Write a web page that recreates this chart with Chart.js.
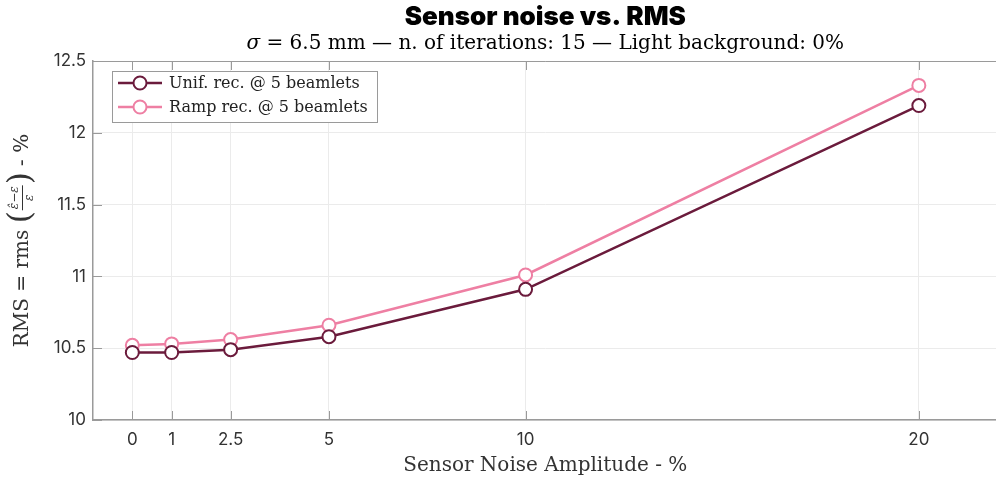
<!DOCTYPE html>
<html>
<head>
<meta charset="utf-8">
<script src="https://cdn.jsdelivr.net/npm/chart.js@4.4.1/dist/chart.umd.min.js"></script>
<style>
  html, body { margin: 0; padding: 0; background: #fff; overflow: hidden; }
  #wrap { width: 1006px; height: 482px; overflow: hidden; }
</style>
</head>
<body>
<div id="wrap"><canvas id="chart_rms" width="1006" height="482"></canvas></div>
<script>
// noise amplitudes (%) and RMS error for both reconstructions
const noiseAmp = [0, 1, 2.5, 5, 10, 20];
const unifRms = [10.47, 10.47, 10.49, 10.58, 10.91, 12.19];
const rampRms = [10.52, 10.53, 10.56, 10.66, 11.01, 12.33];
const xTicks = [0, 1, 2.5, 5, 10, 20];
const yTicks = [10, 10.5, 11, 11.5, 12, 12.5];

const TITLE = 'Sensor noise vs. RMS';
const SUBTITLE = ' = 6.5 mm \u2014 n. of iterations: 15 \u2014 Light background: 0%';
const X_LABEL = 'Sensor Noise Amplitude - %';

const SERIF = '"DejaVu Serif", "Liberation Serif", serif';
const SANS = 'Inter, "Liberation Sans", sans-serif';
const AXIS_COLOR = '#9a9a9a';
const GRID_COLOR = '#ebebeb';

const toPoints = ys => noiseAmp.map((x, i) => ({ x: x, y: ys[i] }));

// titles, y label with the fraction, inner tick marks and legend box
const decorations = {
    id: 'decorations',
    beforeDatasetsDraw(chart) {
        const { ctx, chartArea: a, scales } = chart;
        ctx.save();
        ctx.strokeStyle = AXIS_COLOR;
        ctx.lineWidth = 1;
        ctx.beginPath();
        ctx.moveTo(a.left, a.top + 0.5);
        ctx.lineTo(a.right, a.top + 0.5);
        xTicks.forEach(v => {
            const px = Math.round(scales.x.getPixelForValue(v)) + 0.5;
            ctx.moveTo(px, a.bottom); ctx.lineTo(px, a.bottom - 9);
            ctx.moveTo(px, a.top); ctx.lineTo(px, a.top + 9);
        });
        yTicks.forEach(v => {
            const py = Math.round(scales.y.getPixelForValue(v)) + 0.5;
            ctx.moveTo(a.left, py); ctx.lineTo(a.left + 9, py);
        });
        ctx.stroke();
        ctx.restore();
    },
    afterDraw(chart) {
        const { ctx, chartArea: a } = chart;
        const cx = (a.left + a.right) / 2;
        ctx.save();
        ctx.fillStyle = '#000';
        ctx.textBaseline = 'middle';

        // main title
        ctx.font = `900 26px ${SANS}`;
        ctx.textAlign = 'center';
        ctx.fillText(TITLE, cx, 17);

        // subtitle with italic sigma
        ctx.textAlign = 'left';
        ctx.font = `italic 20px ${SERIF}`;
        const wSig = ctx.measureText('\u03c3').width;
        ctx.font = `20px ${SERIF}`;
        const wRest = ctx.measureText(SUBTITLE).width;
        let sx = cx - (wSig + wRest) / 2;
        ctx.font = `italic 20px ${SERIF}`;
        ctx.fillText('\u03c3', sx, 44);
        ctx.font = `20px ${SERIF}`;
        ctx.fillText(SUBTITLE, sx + wSig, 44);

        // x axis title
        ctx.fillStyle = '#333';
        ctx.textAlign = 'center';
        ctx.font = `20px ${SERIF}`;
        ctx.fillText(X_LABEL, cx, 466);

        // y axis title: RMS = rms((ê-e)/e) - %
        ctx.translate(22, (a.top + a.bottom) / 2);
        ctx.rotate(-Math.PI / 2);
        ctx.textAlign = 'left';
        const big = `20px ${SERIF}`, paren = `31px ${SERIF}`, small = `italic 12px ${SERIF}`;
        const part1 = 'RMS = rms ', part2 = ' - %';
        ctx.font = big;
        const w1 = ctx.measureText(part1).width, w2 = ctx.measureText(part2).width;
        ctx.font = paren;
        const wp = ctx.measureText('(').width;
        ctx.font = small;
        const wNum = ctx.measureText('\u03b5\u0302\u2212\u03b5').width;
        const wFrac = wNum + 4;
        let px = -(w1 + 2 * wp + wFrac + w2) / 2;
        ctx.font = big; ctx.fillText(part1, px, 1); px += w1;
        ctx.font = paren; ctx.fillText('(', px, 0); px += wp;
        ctx.font = small;
        ctx.textAlign = 'center';
        ctx.fillText('\u03b5\u0302\u2212\u03b5', px + wFrac / 2, -7);
        ctx.fillText('\u03b5', px + wFrac / 2, 8);
        ctx.fillRect(px + 1, 0, wFrac - 2, 1);
        px += wFrac;
        ctx.textAlign = 'left';
        ctx.font = paren; ctx.fillText(')', px, 0); px += wp;
        ctx.font = big; ctx.fillText(part2, px, 1);
        ctx.restore();

        // legend box
        const lx = 112, ly = 71, lw = 265, lh = 51;
        ctx.save();
        ctx.fillStyle = '#fff';
        ctx.fillRect(lx, ly, lw, lh);
        ctx.strokeStyle = AXIS_COLOR;
        ctx.lineWidth = 1;
        ctx.strokeRect(lx + 0.5, ly + 0.5, lw, lh);
        chart.data.datasets.forEach((ds, i) => {
            const ry = ly + 12 + i * 24;
            ctx.strokeStyle = ds.borderColor;
            ctx.lineWidth = 2.5;
            ctx.beginPath();
            ctx.moveTo(lx + 6, ry); ctx.lineTo(lx + 50, ry);
            ctx.stroke();
            ctx.beginPath();
            ctx.arc(lx + 28, ry, 6.5, 0, Math.PI * 2);
            ctx.fillStyle = '#fff';
            ctx.fill();
            ctx.lineWidth = 2;
            ctx.stroke();
            ctx.fillStyle = '#222';
            ctx.font = `16px ${SERIF}`;
            ctx.textBaseline = 'middle';
            ctx.fillText(ds.label, lx + 57, ry + 1);
        });
        ctx.restore();
    }
};

const makeSet = (label, color, ys) => ({
    label: label,
    data: toPoints(ys),
    borderColor: color,
    backgroundColor: color,
    borderWidth: 2.5,
    pointRadius: 6.5,
    pointHoverRadius: 6.5,
    pointBorderWidth: 2,
    pointBackgroundColor: '#fff',
    pointBorderColor: color,
    tension: 0
});

new Chart(document.getElementById('chart_rms').getContext('2d'), {
    type: 'line',
    data: {
        datasets: [
            makeSet('Unif. rec. @ 5 beamlets', '#6b1b3c', unifRms),
            makeSet('Ramp rec. @ 5 beamlets', '#ee7fa3', rampRms)
        ]
    },
    options: {
        responsive: false,
        animation: false,
        devicePixelRatio: 1,
        layout: { padding: { top: 61, right: 2, left: 0, bottom: 0 } },
        plugins: {
            legend: { display: false },
            title: { display: false },
            tooltip: { enabled: false }
        },
        scales: {
            x: {
                type: 'linear',
                min: -1,
                max: 22,
                afterBuildTicks: scale => { scale.ticks = xTicks.map(v => ({ value: v })); },
                afterFit: scale => { scale.height = 62; },
                ticks: {
                    padding: 10,
                    color: '#333',
                    font: { family: SANS, size: 17 },
                    callback: v => String(v)
                },
                grid: { color: GRID_COLOR, drawTicks: false },
                border: { color: AXIS_COLOR, width: 1.5 }
            },
            y: {
                min: 10,
                max: 12.5,
                afterBuildTicks: scale => { scale.ticks = yTicks.map(v => ({ value: v })); },
                afterFit: scale => { scale.width = 93; },
                ticks: {
                    padding: 7,
                    color: '#333',
                    font: { family: SANS, size: 17 },
                    callback: v => String(v)
                },
                grid: { color: GRID_COLOR, drawTicks: false },
                border: { color: AXIS_COLOR, width: 1.5 }
            }
        }
    },
    plugins: [decorations]
});
</script>
</body>
</html>
